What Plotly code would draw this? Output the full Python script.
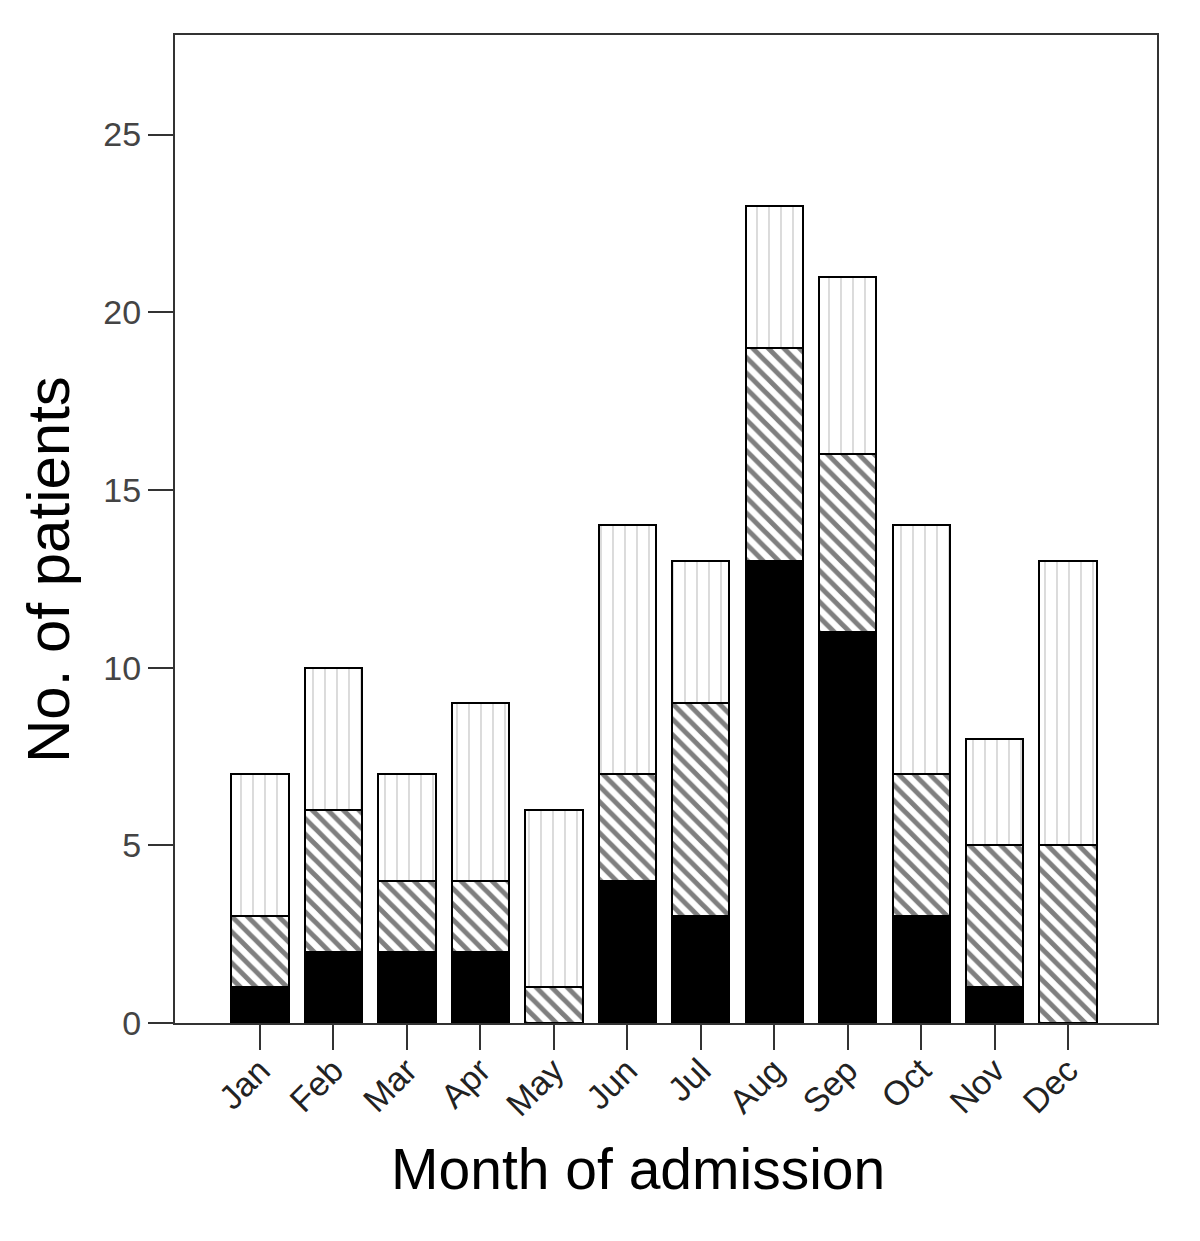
import plotly.graph_objects as go

months = ["Jan", "Feb", "Mar", "Apr", "May", "Jun", "Jul", "Aug", "Sep", "Oct", "Nov", "Dec"]
solid_vals = [1, 2, 2, 2, 0, 4, 3, 13, 11, 3, 1, 0]
hatched_vals = [2, 4, 2, 2, 1, 3, 6, 6, 5, 4, 4, 5]
dotted_vals = [4, 4, 3, 5, 5, 7, 4, 4, 5, 7, 3, 8]
y_ticks = [0, 5, 10, 15, 20, 25]

x = list(range(len(months)))
line = dict(color="black", width=2)
w = 0.78

fig = go.Figure()
fig.add_trace(go.Bar(x=x, y=solid_vals, width=w,
                     marker=dict(color="black", line=line), showlegend=False))
fig.add_trace(go.Bar(x=x, y=hatched_vals, width=w,
                     marker=dict(color="white", line=line,
                                 pattern=dict(shape="\\", fgcolor="black", bgcolor="white",
                                              size=11, solidity=0.45)),
                     showlegend=False))
fig.add_trace(go.Bar(x=x, y=dotted_vals, width=w,
                     marker=dict(color="white", line=line,
                                 pattern=dict(shape="|", fgcolor="#aaaaaa", bgcolor="white",
                                              size=12, solidity=0.14)),
                     showlegend=False))

fig.update_layout(
    barmode="stack",
    width=1200, height=1241,
    margin=dict(l=167, r=51, t=27, b=226),
    plot_bgcolor="white", paper_bgcolor="white",
    font=dict(family="Liberation Sans, Arial, sans-serif", color="#222222"),
    annotations=[
        dict(text="Month of admission", xref="paper", yref="paper",
             x=0.4715, y=-0.148, xanchor="center", yanchor="middle",
             showarrow=False, font=dict(size=57, color="black")),
        dict(text="No. of patients", xref="paper", yref="paper",
             x=-0.1293, y=0.4585, xanchor="center", yanchor="middle",
             textangle=-90, showarrow=False, font=dict(size=60, color="black")),
    ],
)
fig.update_xaxes(
    range=[-1.157, 12.21],
    tickmode="array", tickvals=x, ticktext=months,
    tickangle=-45, ticks="outside", ticklen=25, tickwidth=2, tickcolor="#333333",
    tickfont=dict(size=34, color="#222222"), ticklabelstandoff=-13,
    showline=True, linecolor="#333333", linewidth=2, mirror=True,
    showgrid=False, zeroline=False,
)
fig.update_yaxes(
    range=[0, 27.8],
    tickmode="array", tickvals=y_ticks,
    ticks="outside", ticklen=25, tickwidth=2, tickcolor="#333333",
    tickfont=dict(size=34, color="#444444"),
    showline=True, linecolor="#333333", linewidth=2, mirror=True,
    showgrid=False, zeroline=False,
)

fig.write_html("out.html")
